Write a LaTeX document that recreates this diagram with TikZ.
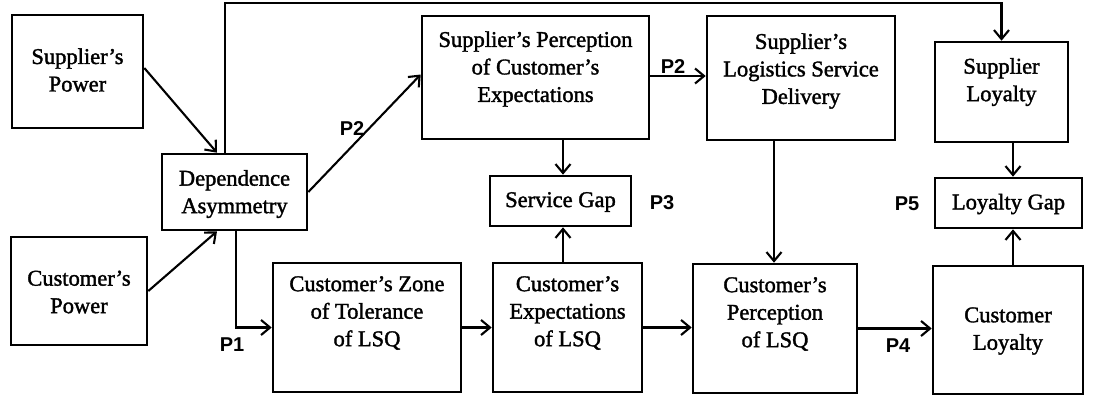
\documentclass[tikz,border=0pt]{standalone}
\usepackage{fontspec}
\setmainfont{Liberation Serif}
\newfontfamily\boxfont{Liberation Serif}[FakeBold=1.6]
\newfontfamily\labfont{Liberation Sans}
\usetikzlibrary{arrows.meta,calc}
\begin{document}
\begin{tikzpicture}[x=1pt,y=-1pt,
  box/.style={draw, line width=2.6pt, inner sep=0pt},
  txt/.style={align=center, inner sep=0pt, font=\boxfont\fontsize{22.5}{27.5}\selectfont},
  plab/.style={inner sep=0pt, font=\labfont\bfseries\fontsize{20}{24}\selectfont},
  arr/.style={line width=2.1pt, -{Straight Barb[length=9pt,width=15pt]}}]
\useasboundingbox (0,0) rectangle (1099,408);
% boxes
\node[box, minimum width=131, minimum height=113] (SP) at (77.5,71.5) {};
\node[box, minimum width=136, minimum height=108] (CP) at (79,291) {};
\node[box, minimum width=145, minimum height=76] (DA) at (234.5,192) {};
\node[box, minimum width=227, minimum height=123] (SPCE) at (535.5,77.5) {};
\node[box, minimum width=188, minimum height=124] (SLSD) at (801,78) {};
\node[box, minimum width=133, minimum height=100] (SL) at (1001.5,92) {};
\node[box, minimum width=141, minimum height=50] (SG) at (560.5,201) {};
\node[box, minimum width=147, minimum height=50] (LG) at (1008.5,203) {};
\node[box, minimum width=188, minimum height=129] (CZT) at (367,327.5) {};
\node[box, minimum width=149, minimum height=129] (CE) at (567.5,327.5) {};
\node[box, minimum width=164, minimum height=129] (CPL) at (775,328.5) {};
\node[box, minimum width=150, minimum height=128] (CL) at (1008,330) {};
% texts
\node[txt] (tSP) at (77.5,70) {Supplier’s\\Power};
\node[txt] (tCP) at (79,292) {Customer’s\\Power};
\node[txt] (tDA) at (234.5,194) {Dependence\\Asymmetry};
\node[txt] (tSPCE) at (535.5,69) {Supplier’s Perception\\of Customer’s\\Expectations};
\node[txt] (tSLSD) at (801,71) {Supplier’s\\Logistics Service\\Delivery};
\node[txt] (tSL) at (1001.5,82) {Supplier\\Loyalty};
\node[txt] (tSG) at (560.5,202) {Service Gap};
\node[txt] (tLG) at (1008.5,204) {Loyalty Gap};
\node[txt] (tCZT) at (367,313) {Customer’s Zone\\of Tolerance\\of LSQ};
\node[txt] (tCE) at (567.5,313) {Customer’s\\Expectations\\of LSQ};
\node[txt] (tCPL) at (775,314) {Customer’s\\Perception\\of LSQ};
\node[txt] (tCL) at (1008,331) {Customer\\Loyalty};
% path labels
\node[plab] (P2a) at (352,129) {P2};
\node[plab] (P2b) at (673,67) {P2};
\node[plab] (P3) at (662,203) {P3};
\node[plab] (P5) at (907,204) {P5};
\node[plab] (P1) at (232,345) {P1};
\node[plab] (P4) at (898,346) {P4};
% connectors
\draw[arr] ([yshift=3.5pt]SP.east) -- ([xshift=-17.5pt]DA.north);
\draw[arr] (CP.east) -- ([xshift=-17.5pt]DA.south);
\draw[arr] ([xshift=-9.5pt]DA.north) -- ++(0,-150) -| (SL.north);
\draw[arr] (DA.east) -- ([yshift=3pt]SPCE.west);
\draw[arr] ([yshift=1.5pt]SPCE.east) -- ([yshift=1.5pt]SPCE.east -| SLSD.west);
\draw[arr] (SPCE.south -| SG.north) ++(2.5,0) -- ([xshift=2.5pt]SG.north);
\draw[arr] (CE.north -| SG.south) ++(2.5,0) -- ([xshift=2.5pt]SG.south);
\draw[arr] (SLSD.south -| CPL.north) ++(-1,0) -- ([xshift=-1pt]CPL.north);
\draw[arr] ([xshift=4.5pt]LG.north |- SL.south) -- ([xshift=4.5pt]LG.north);
\draw[arr] ([xshift=4.5pt]LG.south |- CL.north) -- ([xshift=4.5pt]LG.south);
\draw[arr] ([xshift=1.5pt]DA.south) |- (CZT.west);
\draw[arr] (CZT.east) -- (CE.west);
\draw[arr] (CE.east) -- (CE.east -| CPL.west);
\draw[arr] (CPL.east) -- (CPL.east -| CL.west);
\end{tikzpicture}
\end{document}
